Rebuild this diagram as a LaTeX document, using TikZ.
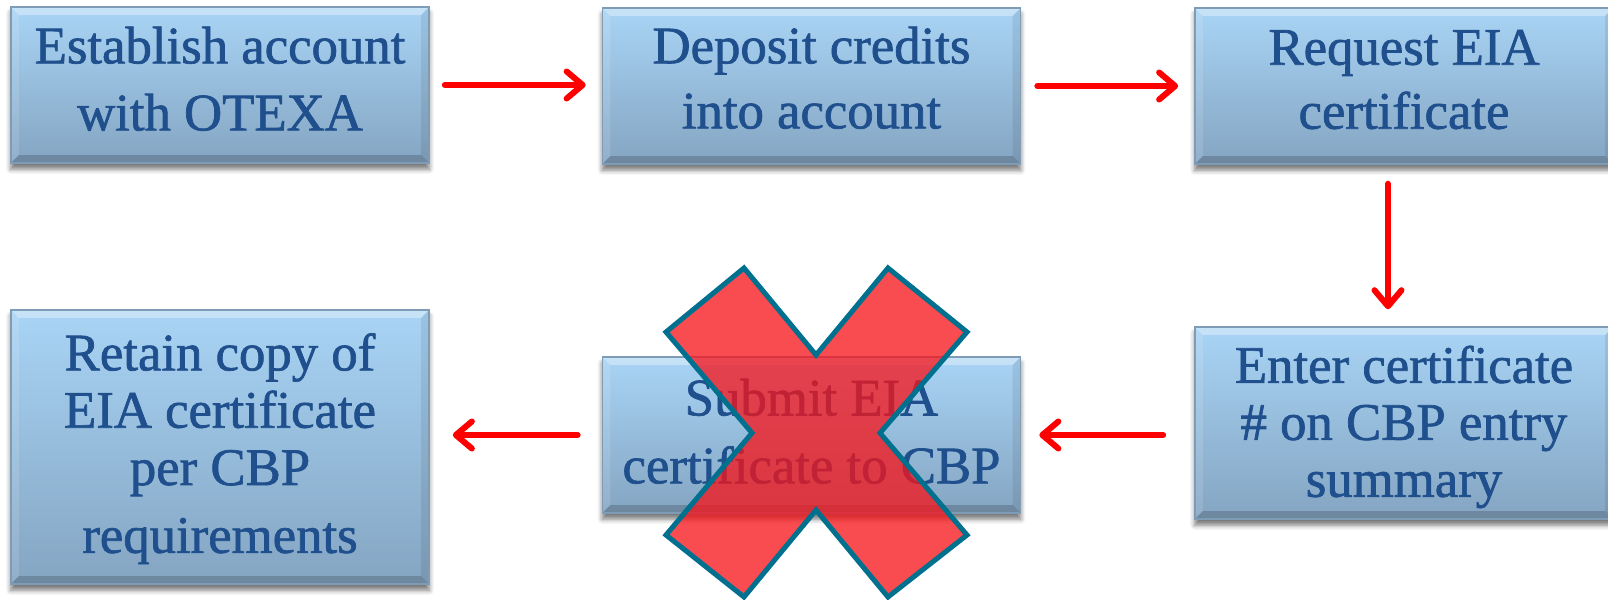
\documentclass[tikz,border=0pt]{standalone}
\usepackage{fontspec}
\setmainfont[FakeBold=1.3]{Liberation Serif}
\usetikzlibrary{arrows.meta,shadows.blur}
\definecolor{boxtop}{HTML}{A9D4F5}
\definecolor{boxbot}{HTML}{84A5C2}
\definecolor{boxedge}{HTML}{7E9CB6}
\definecolor{txtblue}{HTML}{1F4F8C}
\definecolor{xfill}{RGB}{246,20,26}
\definecolor{xedge}{HTML}{00708F}
\definecolor{arrred}{RGB}{255,0,0}
\newcommand{\fstrut}[1]{\rule{0pt}{#1}}
\newcommand{\lstrut}[1]{\rule[-#1]{0pt}{#1}}
\tikzset{
  stepbox/.style={rectangle, inner sep=0pt, minimum width=4.18cm,
    top color=boxtop, bottom color=boxbot, draw=boxedge, line width=0.4pt,
    text=txtblue, align=center,
    blur shadow={shadow xshift=0pt, shadow yshift=-0.06cm, shadow blur radius=0.05cm, shadow opacity=55},
    path picture={
      \fill[white,opacity=0.35] (path picture bounding box.north west) -- (path picture bounding box.north east)
        -- ([xshift=-0.08cm,yshift=-0.08cm]path picture bounding box.north east)
        -- ([xshift=0.08cm,yshift=-0.08cm]path picture bounding box.north west) -- cycle;
      \fill[black,opacity=0.18] (path picture bounding box.south west) -- (path picture bounding box.south east)
        -- ([xshift=-0.08cm,yshift=0.08cm]path picture bounding box.south east)
        -- ([xshift=0.08cm,yshift=0.08cm]path picture bounding box.south west) -- cycle;
      \fill[white,opacity=0.12] (path picture bounding box.north west) -- (path picture bounding box.south west)
        -- ([xshift=0.08cm,yshift=0.08cm]path picture bounding box.south west)
        -- ([xshift=0.08cm,yshift=-0.08cm]path picture bounding box.north west) -- cycle;
      \fill[black,opacity=0.08] (path picture bounding box.north east) -- (path picture bounding box.south east)
        -- ([xshift=-0.08cm,yshift=0.08cm]path picture bounding box.south east)
        -- ([xshift=-0.08cm,yshift=-0.08cm]path picture bounding box.north east) -- cycle;
    }},
  flow/.style={draw=arrred, line width=0.06cm, line cap=round,
    -{Straight Barb[length=0.16cm,width=0.27cm,line cap=round,line join=round]}},
  xshape/.style={fill=xfill, fill opacity=0.76, draw=xedge, line width=0.05cm, line join=miter},
}
\begin{document}
\begin{tikzpicture}[x=0.01cm,y=-0.01cm]
\useasboundingbox (0,0) rectangle (1608,600);
\node[stepbox, minimum height=1.56cm, font=\fontsize{15}{19.06}\selectfont] (b1) at (220,85)
  {\fstrut{10.3pt}Establish account\\with OTEXA\lstrut{3.66pt}};
\node[stepbox, minimum height=1.56cm, font=\fontsize{15}{18.5}\selectfont] (b2) at (811.5,86)
  {\fstrut{10.3pt}Deposit credits\\into account\lstrut{4.8pt}};
\node[stepbox, minimum height=1.56cm, font=\fontsize{15}{18.2}\selectfont] (b3) at (1404,86)
  {\fstrut{10.3pt}Request EIA\\certificate\lstrut{4.2pt}};
\node[stepbox, minimum height=1.92cm, font=\fontsize{15}{16.2}\selectfont] (b4) at (1404,423)
  {\fstrut{12.8pt}Enter certificate\\\# on CBP entry\\summary};
\node[stepbox, minimum height=1.56cm, font=\fontsize{15}{19.3}\selectfont] (b5) at (811.5,435)
  {\fstrut{10.3pt}Submit EIA\\certificate to CBP\lstrut{2.23pt}};
\node[stepbox, minimum height=2.74cm, font=\fontsize{15}{16.3}\selectfont] (b6) at (220,447)
  {\fstrut{11.5pt}Retain copy of\\EIA certificate\\per CBP\\[3pt]requirements};

\draw[flow, shorten <=0.15cm, shorten >=0.16cm] (b1.east) -- (b1.east -| b2.west);
\draw[flow, shorten <=0.16cm, shorten >=0.16cm] (b2.east) -- (b2.east -| b3.west);
\draw[flow, shorten <=0.19cm, shorten >=0.17cm] ([xshift=-0.16cm]b3.south) -- ([xshift=-0.16cm]b3.south |- b4.north);
\draw[flow, shorten <=0.31cm, shorten >=0.18cm] (b4.west |- b5.east) -- (b5.east);
\draw[flow, shorten <=0.24cm, shorten >=0.23cm] (b5.west) -- (b5.west -| b6.east);

\coordinate (xc) at (816,433);
\filldraw[xshape] ([shift={(-72,-165)}]xc) -- ([shift={(0,-78)}]xc) -- ([shift={(72,-165)}]xc)
  -- ([shift={(151,-101)}]xc) -- ([shift={(64,0)}]xc) -- ([shift={(151,102)}]xc)
  -- ([shift={(72,164)}]xc) -- ([shift={(0,77)}]xc) -- ([shift={(-72,164)}]xc)
  -- ([shift={(-150,102)}]xc) -- ([shift={(-64,0)}]xc) -- ([shift={(-150,-101)}]xc) -- cycle;
\end{tikzpicture}
\end{document}
